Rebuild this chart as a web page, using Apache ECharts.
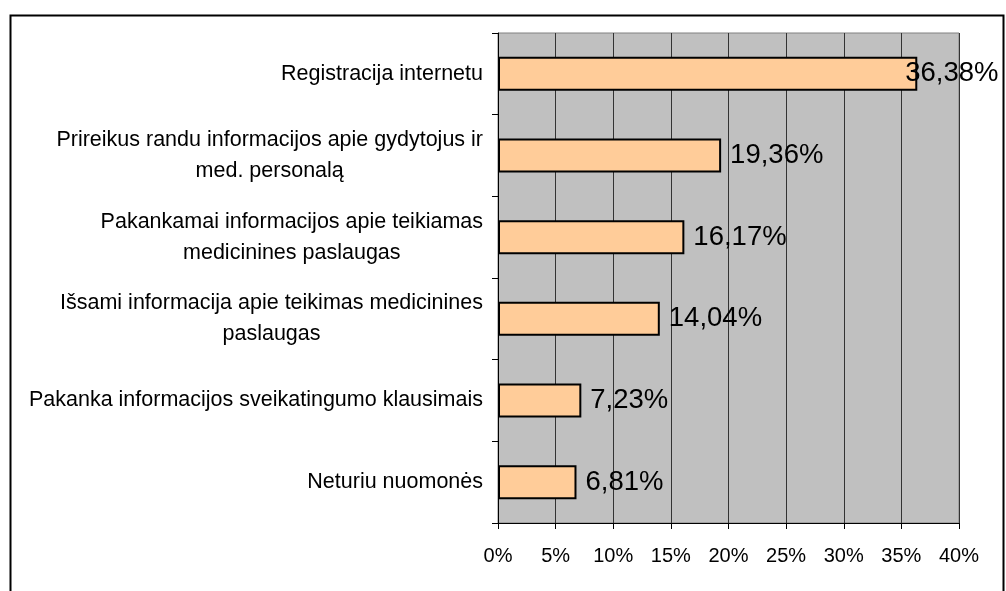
<!DOCTYPE html>
<html>
<head>
<meta charset="utf-8">
<script src="https://cdn.jsdelivr.net/npm/echarts@6/dist/echarts.min.js"></script>
<style>
  html, body { margin: 0; padding: 0; background: #fff; }
  #chart { width: 1006px; height: 591px; }
</style>
</head>
<body>
<div id="chart"></div>
<script>
// kategorijos (iš viršaus į apačią)
var categories = [
  "Registracija internetu",
  "Prireikus randu informacijos apie gydytojus ir\nmed. personalą",
  "Pakankamai informacijos apie teikiamas\nmedicinines paslaugas",
  "Išsami informacija apie teikimas medicinines\npaslaugas",
  "Pakanka informacijos sveikatingumo klausimais",
  "Neturiu nuomonės"
];
var values = [36.38, 19.36, 16.17, 14.04, 7.23, 6.81];
var axisMax = 40;
var axisStep = 5;

var font = "'Liberation Sans', Arial, sans-serif";

var seriesData = values.map(function (v, i) {
  var item = { value: v };
  // pirmas užrašas prie pat rėmo - pastumiam kairėn
  if (i === 0) {
    item.label = { offset: [-21, 0] };
  }
  return item;
});

var myChart = echarts.init(document.getElementById("chart"));
myChart.setOption({
  animation: false,
  textStyle: { fontFamily: font },
  graphic: [
    {
      type: "rect",
      left: 8,
      top: 13,
      z: -10,
      shape: { width: 993, height: 620 },
      style: { fill: "none", stroke: "#000", lineWidth: 2 }
    }
  ],
  grid: {
    left: 498,
    right: 47,
    top: 33,
    bottom: 68,
    show: true,
    backgroundColor: "#C0C0C0",
    borderColor: "#808080",
    borderWidth: 1
  },
  xAxis: {
    type: "value",
    min: 0,
    max: axisMax,
    interval: axisStep,
    axisLine: { show: true, lineStyle: { color: "#000", width: 1 } },
    axisTick: { show: true, length: 6, lineStyle: { color: "#000" } },
    axisLabel: {
      formatter: "{value}%",
      fontSize: 20,
      color: "#000",
      margin: 23,
      fontFamily: font
    },
    splitLine: { show: true, lineStyle: { color: "#333", width: 1 } }
  },
  yAxis: {
    type: "category",
    data: categories,
    inverse: true,
    axisLine: { show: true, lineStyle: { color: "#000", width: 1 } },
    axisTick: { show: true, length: 6, lineStyle: { color: "#000" } },
    axisLabel: {
      align: "right",
      margin: 15,
      color: "#000",
      fontSize: 21.5,
      fontFamily: font,
      formatter: function (v) {
        return v.split("\n").map(function (s) { return "{c|" + s + "}"; }).join("\n");
      },
      rich: {
        c: { align: "center", fontSize: 21.5, lineHeight: 31, color: "#000", fontFamily: font }
      }
    },
    splitLine: { show: false }
  },
  series: [
    {
      type: "bar",
      data: seriesData,
      barWidth: 34,
      itemStyle: { color: "#FFCC99", borderColor: "#000", borderWidth: 2 },
      label: {
        show: true,
        position: "right",
        distance: 9,
        fontSize: 27.5,
        color: "#000",
        fontFamily: font,
        formatter: function (p) {
          return p.value.toFixed(2).replace(".", ",") + "%";
        }
      }
    }
  ]
});
</script>
</body>
</html>
